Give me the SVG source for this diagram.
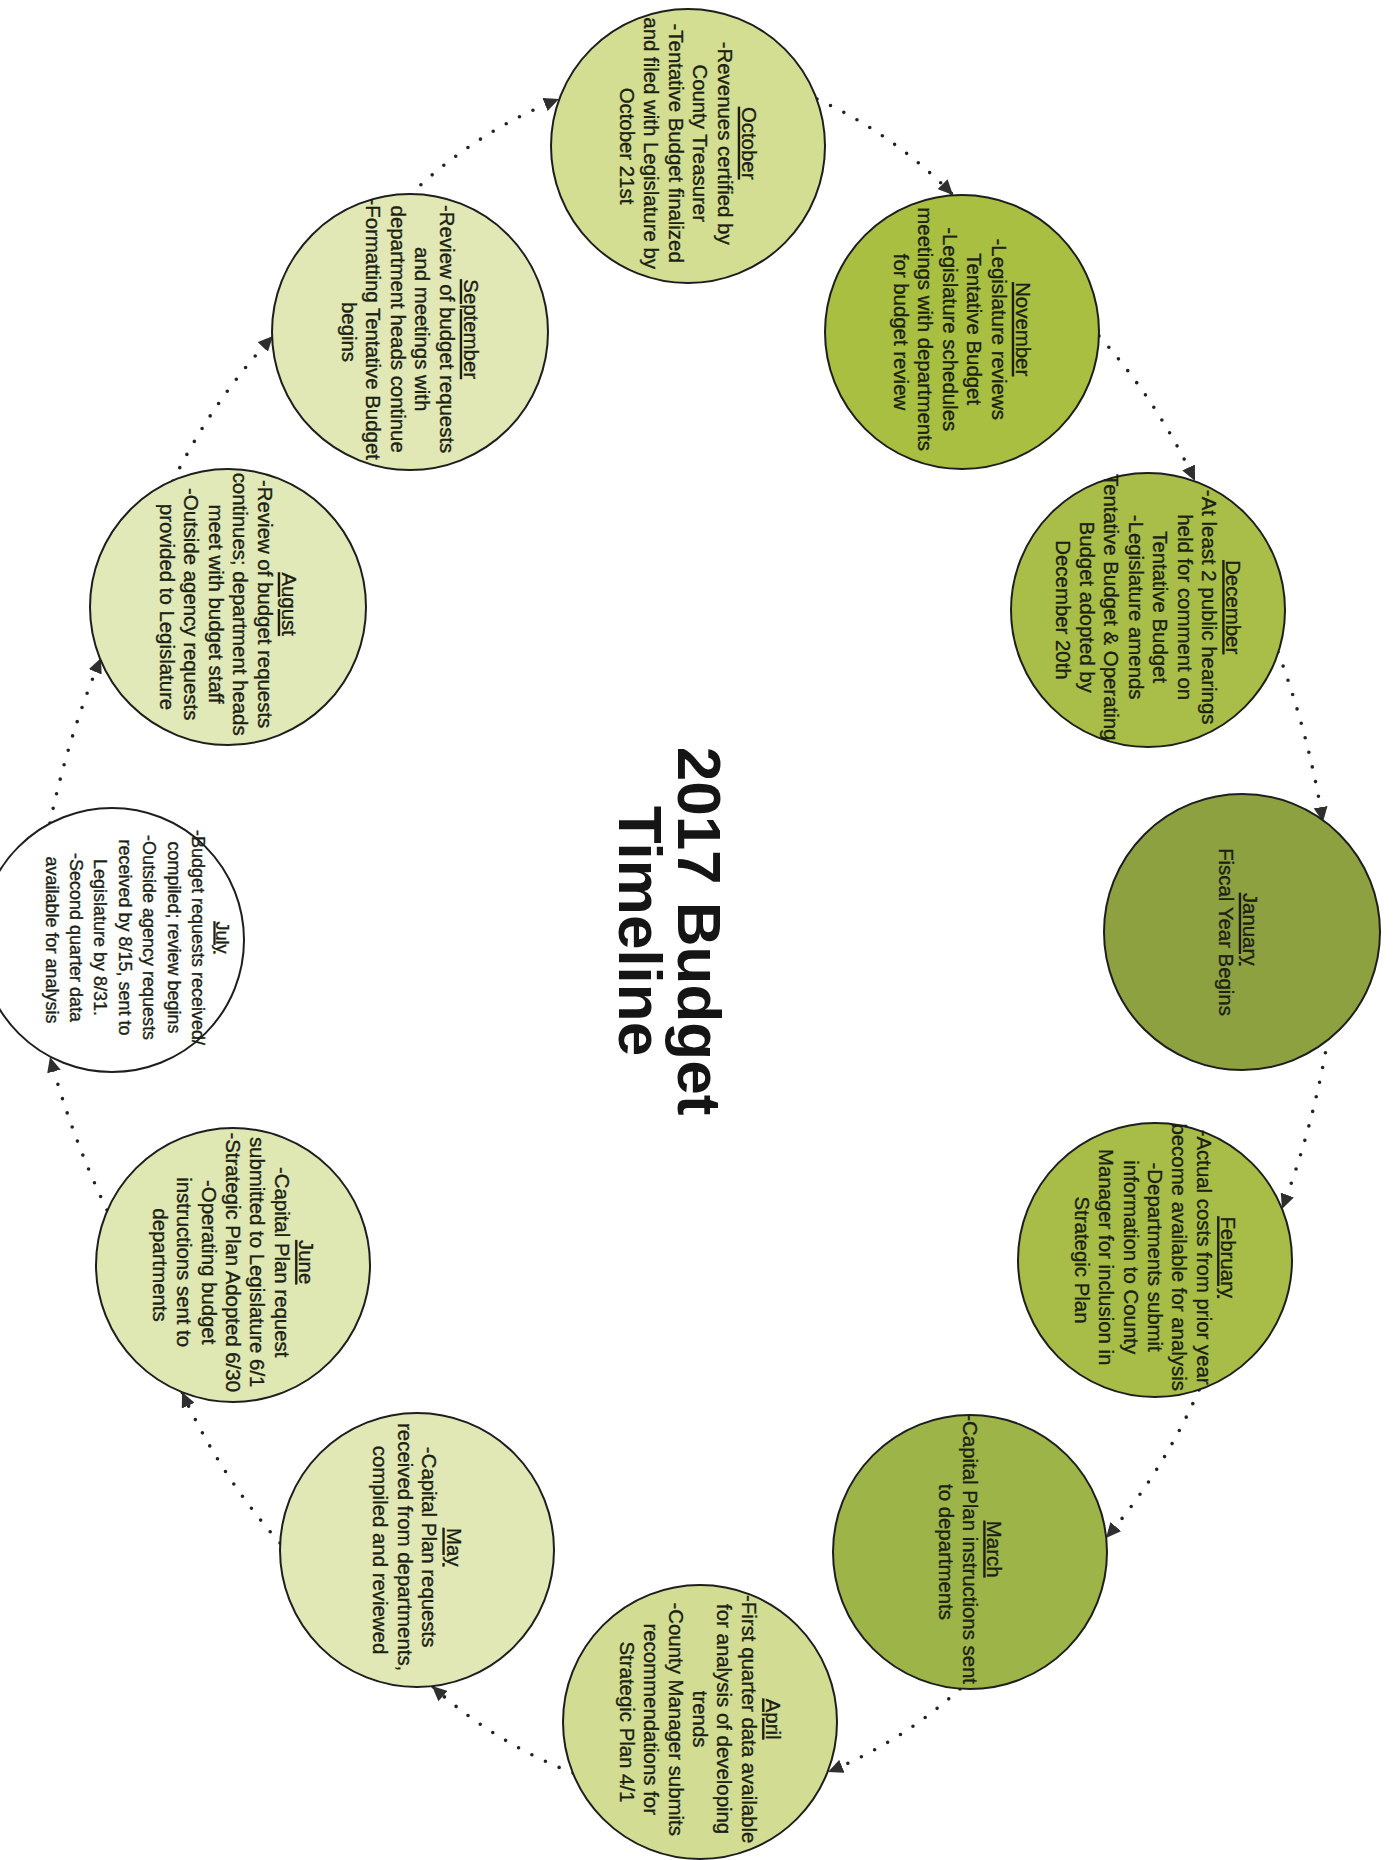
<svg xmlns="http://www.w3.org/2000/svg" width="1395" height="1860" viewBox="0 0 1395 1860">
  <defs>
    <marker id="arrow" markerUnits="userSpaceOnUse" markerWidth="16" markerHeight="14" refX="15" refY="7" orient="auto">
      <path d="M0,0 L15,7 L0,14 z" fill="#2e3030"/>
    </marker>
    <style>
      .node circle { stroke: #1e1e1e; stroke-width: 2; }
      .node text { font-family: "Liberation Sans", Arial, sans-serif; font-size: 20.4px; fill: #1c1f14; stroke: #1c1f14; stroke-width: 0.35px; text-anchor: middle; }
      .m { text-decoration: underline; }
      .link { fill: none; stroke: #222; stroke-width: 3.6; stroke-linecap: round; stroke-dasharray: 0 15; marker-end: url(#arrow); }
      .title { font-family: "Liberation Sans", Arial, sans-serif; font-weight: bold; font-size: 62px; fill: #151515; text-anchor: middle; }
    </style>
  </defs>
  <rect width="1395" height="1860" fill="#ffffff"/>

  <!-- dotted cycle connectors, clockwise -->
  <g id="connectors">
    <path class="link" d="M817,99 A450,450 0 0 1 953,195"/>
    <path class="link" d="M1099,336 A600,600 0 0 1 1195,481"/>
    <path class="link" d="M1278,652 A900,900 0 0 1 1323,822"/>
    <path class="link" d="M1328,1038 A900,900 0 0 1 1282,1209"/>
    <path class="link" d="M1199,1390 A600,600 0 0 1 1106,1538"/>
    <path class="link" d="M960,1689 A450,450 0 0 1 828,1772"/>
    <path class="link" d="M573,1773 A450,450 0 0 1 432,1686"/>
    <path class="link" d="M280,1543 A600,600 0 0 1 182,1392"/>
    <path class="link" d="M107,1210 A900,900 0 0 1 50,1057"/>
    <path class="link" d="M50,823 A900,900 0 0 1 101,658"/>
    <path class="link" d="M173,481 A600,600 0 0 1 273,336"/>
    <path class="link" d="M410,195 A450,450 0 0 1 559,99"/>
  </g>

  <g id="title" transform="translate(670 931) rotate(90)">
    <text class="title" x="0" y="-8">2017 Budget</text>
    <text class="title" x="0" y="51">Timeline</text>
  </g>

  <g id="october" class="node" transform="translate(688 146)">
    <circle r="137" fill="#d3de92"/>
    <text transform="rotate(90)" y="-54">
      <tspan x="0" class="m">October</tspan>
      <tspan x="0" dy="24.4">-Revenues certified by</tspan>
      <tspan x="0" dy="24.4">County Treasurer</tspan>
      <tspan x="0" dy="24.4">-Tentative Budget finalized</tspan>
      <tspan x="0" dy="24.4">and filed with Legislature by</tspan>
      <tspan x="0" dy="24.4">October 21st</tspan>
    </text>
  </g>

  <g id="november" class="node" transform="translate(962 332)">
    <circle r="137" fill="#a8bf42"/>
    <text transform="rotate(90)" y="-54">
      <tspan x="0" class="m">November</tspan>
      <tspan x="0" dy="24.4">-Legislature reviews</tspan>
      <tspan x="0" dy="24.4">Tentative Budget</tspan>
      <tspan x="0" dy="24.4">-Legislature schedules</tspan>
      <tspan x="0" dy="24.4">meetings with departments</tspan>
      <tspan x="0" dy="24.4">for budget review</tspan>
    </text>
  </g>

  <g id="december" class="node" transform="translate(1148 610)">
    <circle r="137" fill="#a8be48"/>
    <text transform="rotate(90)" y="-78.4">
      <tspan x="0" class="m">December</tspan>
      <tspan x="0" dy="24.4">-At least 2 public hearings</tspan>
      <tspan x="0" dy="24.4">held for comment on</tspan>
      <tspan x="0" dy="24.4">Tentative Budget</tspan>
      <tspan x="0" dy="24.4">-Legislature amends</tspan>
      <tspan x="0" dy="24.4">Tentative Budget &amp; Operating</tspan>
      <tspan x="0" dy="24.4">Budget adopted by</tspan>
      <tspan x="0" dy="24.4">December 20th</tspan>
    </text>
  </g>

  <g id="january" class="node" transform="translate(1242 932)">
    <circle r="138" fill="#8ea141"/>
    <text transform="rotate(90)" y="-1">
      <tspan x="0" class="m">January</tspan>
      <tspan x="0" dy="24.4">Fiscal Year Begins</tspan>
    </text>
  </g>

  <g id="february" class="node" transform="translate(1155 1260)">
    <circle r="137" fill="#a7bd47"/>
    <text transform="rotate(90)" y="-66.2">
      <tspan x="0" class="m">February</tspan>
      <tspan x="0" dy="24.4">-Actual costs from prior year</tspan>
      <tspan x="0" dy="24.4">become available for analysis</tspan>
      <tspan x="0" dy="24.4">-Departments submit</tspan>
      <tspan x="0" dy="24.4">information to County</tspan>
      <tspan x="0" dy="24.4">Manager for inclusion in</tspan>
      <tspan x="0" dy="24.4">Strategic Plan</tspan>
    </text>
  </g>

  <g id="march" class="node" transform="translate(970 1552)">
    <circle r="137" fill="#9db449"/>
    <text transform="rotate(90)" y="-17.4">
      <tspan x="0" class="m">March</tspan>
      <tspan x="0" dy="24.4">-Capital Plan instructions sent</tspan>
      <tspan x="0" dy="24.4">to departments</tspan>
    </text>
  </g>

  <g id="april" class="node" transform="translate(700 1722)">
    <circle r="137" fill="#d2dd93"/>
    <text transform="rotate(90)" y="-66.2">
      <tspan x="0" class="m">April</tspan>
      <tspan x="0" dy="24.4">-First quarter data available</tspan>
      <tspan x="0" dy="24.4">for analysis of developing</tspan>
      <tspan x="0" dy="24.4">trends</tspan>
      <tspan x="0" dy="24.4">-County Manager submits</tspan>
      <tspan x="0" dy="24.4">recommendations for</tspan>
      <tspan x="0" dy="24.4">Strategic Plan 4/1</tspan>
    </text>
  </g>

  <g id="may" class="node" transform="translate(417 1550)">
    <circle r="137" fill="#e1e8b5"/>
    <text transform="rotate(90)" y="-29.6">
      <tspan x="0" class="m">May</tspan>
      <tspan x="0" dy="24.4">-Capital Plan requests</tspan>
      <tspan x="0" dy="24.4">received from departments,</tspan>
      <tspan x="0" dy="24.4">compiled and reviewed</tspan>
    </text>
  </g>

  <g id="june" class="node" transform="translate(233 1265)">
    <circle r="137" fill="#dfe7b3"/>
    <text transform="rotate(90)" y="-66.2">
      <tspan x="0" class="m">June</tspan>
      <tspan x="0" dy="24.4">-Capital Plan request</tspan>
      <tspan x="0" dy="24.4">submitted to Legislature 6/1</tspan>
      <tspan x="0" dy="24.4">-Strategic Plan Adopted 6/30</tspan>
      <tspan x="0" dy="24.4">-Operating budget</tspan>
      <tspan x="0" dy="24.4">instructions sent to</tspan>
      <tspan x="0" dy="24.4">departments</tspan>
    </text>
  </g>

  <g id="july" class="node" transform="translate(118 940)">
    <circle cx="-6" r="132" fill="#ffffff"/>
    <text transform="rotate(90)" y="-98.4" style="font-size:18px">
      <tspan x="0" class="m">July</tspan>
      <tspan x="0" dy="24.4">-Budget requests received/</tspan>
      <tspan x="0" dy="24.4">compiled; review begins</tspan>
      <tspan x="0" dy="24.4">-Outside agency requests</tspan>
      <tspan x="0" dy="24.4">received by 8/15, sent to</tspan>
      <tspan x="0" dy="24.4">Legislature by 8/31.</tspan>
      <tspan x="0" dy="24.4">-Second quarter data</tspan>
      <tspan x="0" dy="24.4">available for analysis</tspan>
    </text>
  </g>

  <g id="august" class="node" transform="translate(228 607)">
    <circle r="138" fill="#e2e9b9"/>
    <text transform="rotate(90)" y="-54">
      <tspan x="0" class="m">August</tspan>
      <tspan x="0" dy="24.4">-Review of budget requests</tspan>
      <tspan x="0" dy="24.4">continues; department heads</tspan>
      <tspan x="0" dy="24.4">meet with budget staff</tspan>
      <tspan x="0" dy="24.4">-Outside agency requests</tspan>
      <tspan x="0" dy="24.4">provided to Legislature</tspan>
    </text>
  </g>

  <g id="september" class="node" transform="translate(410 332)">
    <circle r="138" fill="#e1e8b5"/>
    <text transform="rotate(90)" y="-54">
      <tspan x="0" class="m">September</tspan>
      <tspan x="0" dy="24.4">-Review of budget requests</tspan>
      <tspan x="0" dy="24.4">and meetings with</tspan>
      <tspan x="0" dy="24.4">department heads continue</tspan>
      <tspan x="0" dy="24.4">-Formatting Tentative Budget</tspan>
      <tspan x="0" dy="24.4">begins</tspan>
    </text>
  </g>
</svg>
